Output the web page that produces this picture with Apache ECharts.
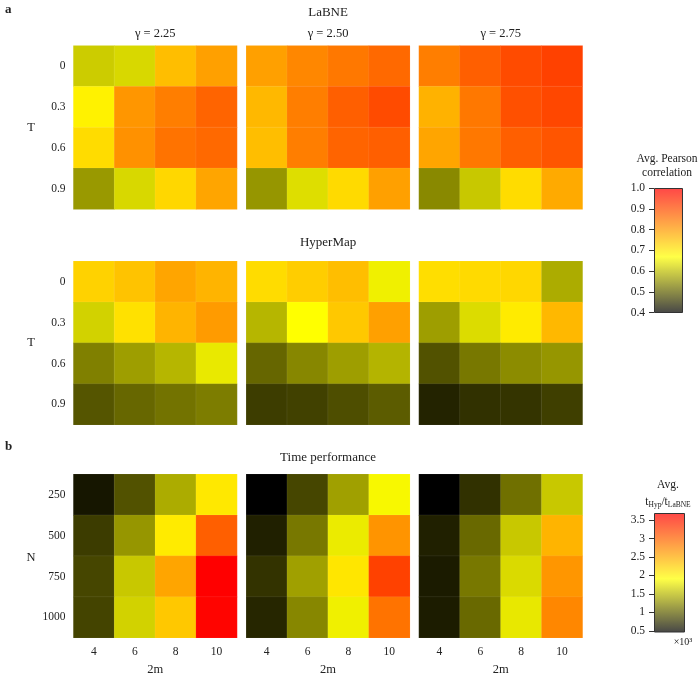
<!DOCTYPE html>
<html><head><meta charset="utf-8">
<script src="https://cdn.jsdelivr.net/npm/echarts@6/dist/echarts.min.js"></script>
<style>html,body{margin:0;padding:0;background:#fff}#c{width:700px;height:677px}</style>
</head><body><div id="c"></div>
<script>
// ---------- data ----------
const twoM = ['4', '6', '8', '10'];
const Tvals = ['0', '0.3', '0.6', '0.9'];
const Nvals = ['250', '500', '750', '1000'];
const gammaLabels = ['γ = 2.25', 'γ = 2.50', 'γ = 2.75'];
const rowTitles = ['LaBNE', 'HyperMap', 'Time performance'];

// rows: T = 0, 0.3, 0.6, 0.9 ; columns: 2m = 4, 6, 8, 10
const labne225 = [[0.616, 0.628, 0.754, 0.793], [0.686, 0.806, 0.838, 0.870], [0.715, 0.813, 0.851, 0.864], [0.562, 0.628, 0.722, 0.786]];
const labne250 = [[0.793, 0.825, 0.845, 0.864], [0.761, 0.838, 0.877, 0.903], [0.754, 0.838, 0.870, 0.877], [0.559, 0.635, 0.718, 0.793]];
const labne275 = [[0.838, 0.877, 0.903, 0.916], [0.770, 0.845, 0.896, 0.909], [0.786, 0.845, 0.877, 0.890], [0.545, 0.612, 0.715, 0.780]];
const hmap225 = [[0.728, 0.747, 0.786, 0.767], [0.622, 0.709, 0.767, 0.800], [0.535, 0.567, 0.593, 0.646], [0.490, 0.509, 0.522, 0.532]];
const hmap250 = [[0.715, 0.735, 0.754, 0.654], [0.593, 0.670, 0.741, 0.793], [0.508, 0.543, 0.567, 0.591], [0.464, 0.469, 0.482, 0.497]];
const hmap275 = [[0.713, 0.718, 0.722, 0.582], [0.567, 0.633, 0.696, 0.761], [0.487, 0.527, 0.548, 0.559], [0.437, 0.451, 0.455, 0.466]];
// rows: N = 250, 500, 750, 1000 ; values x10^3
const time225 = [[0.595, 0.937, 1.448, 2.080], [0.811, 1.323, 2.057, 3.030], [0.869, 1.607, 2.544, 3.690], [0.856, 1.664, 2.302, 3.660]];
const time250 = [[0.470, 0.869, 1.378, 1.880], [0.652, 1.153, 1.806, 2.663], [0.755, 1.378, 2.093, 3.239], [0.686, 1.236, 1.835, 2.891]];
const time275 = [[0.470, 0.744, 1.108, 1.607], [0.652, 1.066, 1.607, 2.441], [0.625, 1.153, 1.709, 2.650], [0.630, 1.066, 1.787, 2.753]];

const pearsonRange = [0.4, 1.0];
const pearsonTicks = [0.4, 0.5, 0.6, 0.7, 0.8, 0.9, 1.0];
const timeRange = [0.47, 3.69];
const timeTicks = [0.5, 1, 1.5, 2, 2.5, 3, 3.5];

// ---------- style ----------
const FONT = "'Liberation Serif','DejaVu Serif',serif";
const TXT = '#222';
const YEL = 0.45;
function cmap(f, a) {
  f = Math.max(0, Math.min(1, f));
  let r, g;
  if (f <= YEL) { r = g = 255 * f / YEL; } else { r = 255; g = 255 * (1 - (f - YEL) / (1 - YEL)); }
  return 'rgba(' + Math.round(r) + ',' + Math.round(g) + ',0,' + (a == null ? 1 : a) + ')';
}
const stops = [];
for (let i = 0; i <= 40; i++) stops.push(cmap(i / 40));
const gradStops = [];
for (let i = 0; i <= 40; i++) gradStops.push({ offset: i / 40, color: cmap(1 - i / 40, 0.72) });

const colLeft = [73.5, 246.3, 419];
const rowTop = [45.7, 261.3, 474.3];
const PW = 163.5, PH = 163.5;

const panels = [
  [labne225, labne250, labne275],
  [hmap225, hmap250, hmap275],
  [time225, time250, time275]
];

const grids = [], xAxes = [], yAxes = [], series = [];
let gi = 0;
for (let r = 0; r < 3; r++) {
  for (let c = 0; c < 3; c++) {
    grids.push({ left: colLeft[c], top: rowTop[r], width: PW, height: PH });
    xAxes.push({
      type: 'category', gridIndex: gi, data: twoM,
      axisLine: { show: false }, axisTick: { show: false }, splitLine: { show: false },
      axisLabel: { show: r === 2, fontFamily: FONT, fontSize: 11.5, color: TXT, margin: 8 }
    });
    yAxes.push({
      type: 'category', gridIndex: gi, data: r === 2 ? Nvals : Tvals, inverse: true,
      axisLine: { show: false }, axisTick: { show: false }, splitLine: { show: false },
      axisLabel: { show: c === 0, fontFamily: FONT, fontSize: 11.5, color: TXT, margin: 8 }
    });
    const mat = panels[r][c];
    const d = [];
    for (let i = 0; i < 4; i++) for (let j = 0; j < 4; j++) d.push([j, i, mat[i][j]]);
    series.push({
      type: 'heatmap', xAxisIndex: gi, yAxisIndex: gi, data: d,
      itemStyle: { borderColor: 'rgba(255,255,255,0.12)', borderWidth: 0.6 },
      emphasis: { disabled: true }
    });
    gi++;
  }
}

// colorbars
const cbs = [
  { left: 654, top: 188, width: 29, height: 124.5, range: pearsonRange, ticks: pearsonTicks, fmt: v => v.toFixed(1) },
  { left: 654, top: 513, width: 31, height: 119, range: timeRange, ticks: timeTicks, fmt: v => String(v) }
];
cbs.forEach(cb => {
  grids.push({ left: cb.left, top: cb.top, width: cb.width, height: cb.height });
  xAxes.push({ type: 'category', gridIndex: gi, data: ['c'], show: false });
  yAxes.push({
    type: 'value', gridIndex: gi, min: cb.range[0], max: cb.range[1],
    axisLine: { show: false }, splitLine: { show: false },
    axisTick: { show: true, length: 5, lineStyle: { color: '#333' }, customValues: cb.ticks },
    axisLabel: { fontFamily: FONT, fontSize: 11.5, color: TXT, margin: 9, customValues: cb.ticks, formatter: cb.fmt }
  });
  series.push({
    type: 'bar', xAxisIndex: gi, yAxisIndex: gi, data: [cb.range[1]], barWidth: '100%',
    itemStyle: {
      color: new echarts.graphic.LinearGradient(0, 0, 0, 1, gradStops),
      borderColor: '#333', borderWidth: 1
    },
    silent: true, animation: false
  });
  gi++;
});

function txt(x, y, text, size, extra) {
  return Object.assign({
    type: 'text', x: x, y: y, silent: true,
    style: Object.assign({ text: text, fontFamily: FONT, fontSize: size, fill: TXT, align: 'center', verticalAlign: 'middle' }, extra || {})
  });
}
const centers = colLeft.map(l => l + PW / 2);
const graphics = [
  txt(5, 10, 'a', 13, { fontWeight: 'bold', align: 'left' }),
  txt(5, 447, 'b', 13, { fontWeight: 'bold', align: 'left' }),
  txt(centers[1], 13, rowTitles[0], 13),
  txt(centers[1], 243, rowTitles[1], 13),
  txt(centers[1], 458, rowTitles[2], 13),
  txt(31, 128, 'T', 12.5),
  txt(31, 343, 'T', 12.5),
  txt(31, 558, 'N', 12.5),
  txt(667, 159, 'Avg. Pearson', 11.5),
  txt(667, 172.5, 'correlation', 11.5),
  txt(668, 485, 'Avg.', 11.5),
  {
    type: 'text', x: 668, y: 502, silent: true,
    style: {
      text: '{t|t}{s|Hyp}{t|/t}{s|LaBNE}', align: 'center', verticalAlign: 'middle', fill: TXT,
      rich: {
        t: { fontFamily: FONT, fontSize: 11.5, fill: TXT, lineHeight: 14 },
        s: { fontFamily: FONT, fontSize: 7.5, fill: TXT, lineHeight: 14, padding: [6, 0, 0, 0] }
      }
    }
  },
  txt(683, 642, '×10³', 10)
];
for (let c = 0; c < 3; c++) {
  graphics.push(txt(centers[c], 34, gammaLabels[c], 12.5));
  graphics.push(txt(centers[c], 670, '2m', 12.5));
}

const visualMap = [
  { type: 'continuous', show: false, min: pearsonRange[0], max: pearsonRange[1], seriesIndex: [0, 1, 2, 3, 4, 5], inRange: { color: stops } },
  { type: 'continuous', show: false, min: timeRange[0], max: timeRange[1], seriesIndex: [6, 7, 8], inRange: { color: stops } }
];

const chart = echarts.init(document.getElementById('c'), null, { renderer: 'canvas' });
chart.setOption({
  animation: false,
  backgroundColor: '#fff',
  grid: grids, xAxis: xAxes, yAxis: yAxes, series: series,
  visualMap: visualMap,
  graphic: graphics
});
</script></body></html>
